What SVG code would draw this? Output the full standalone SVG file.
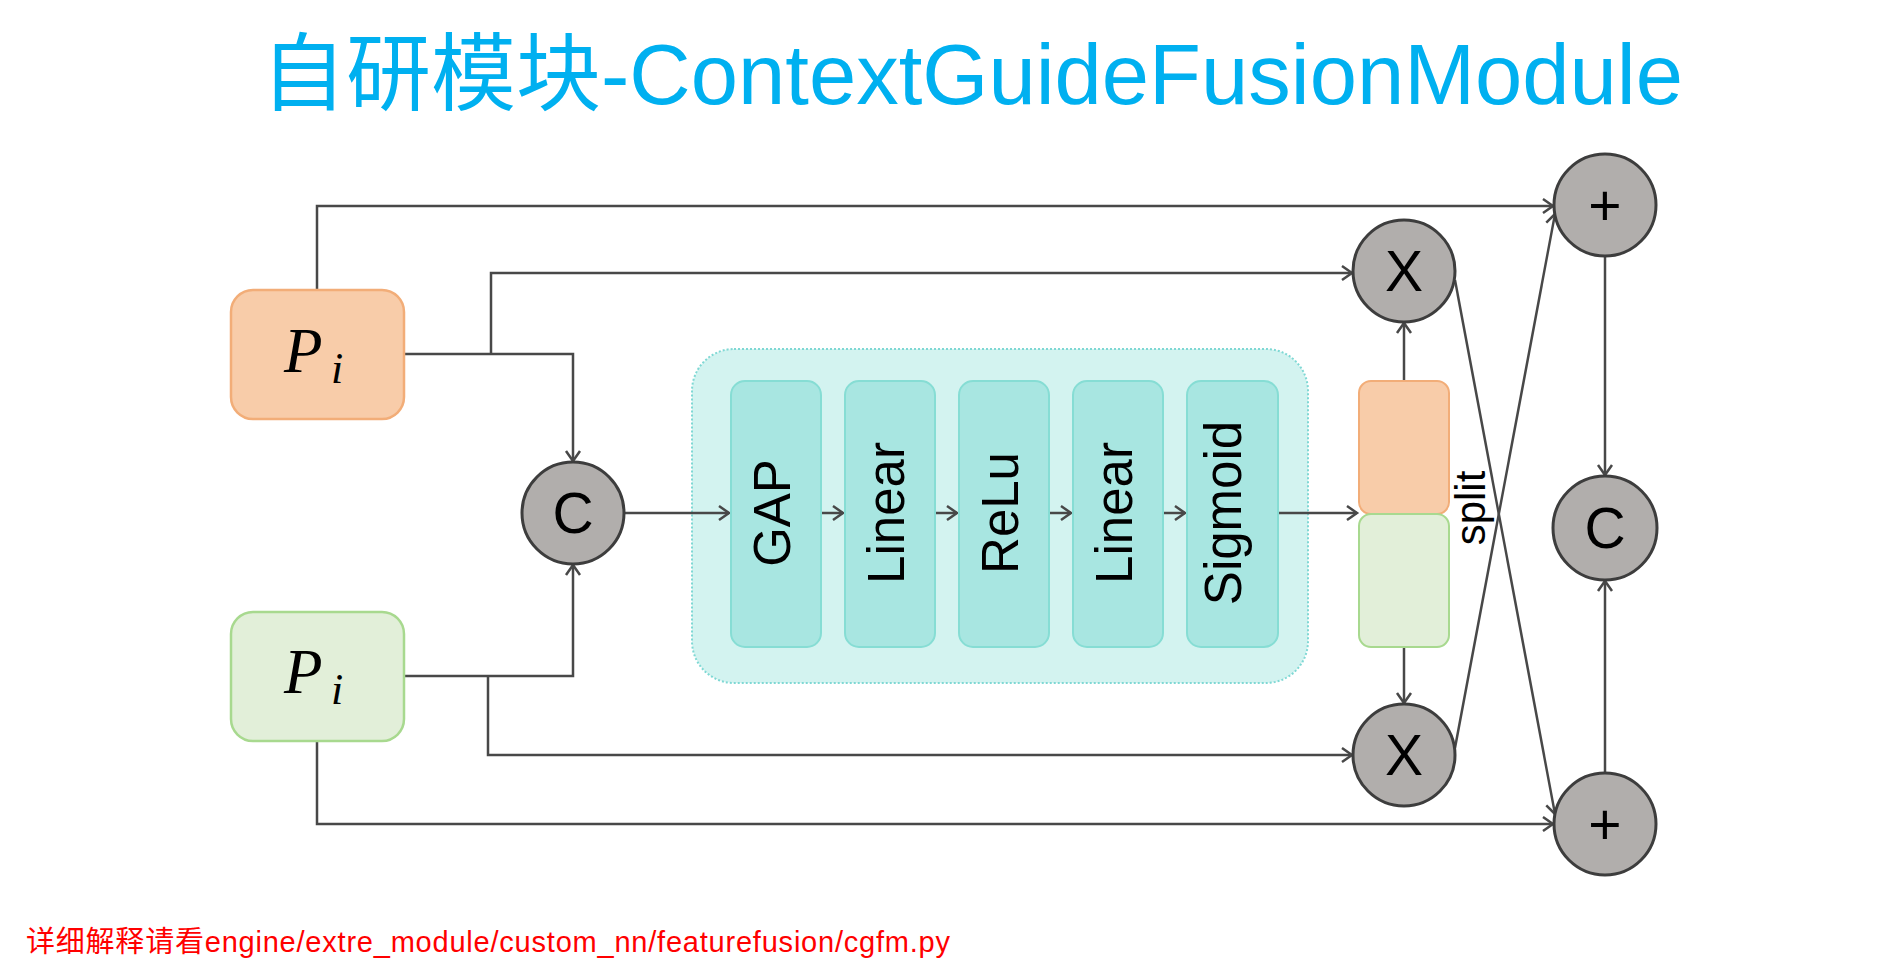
<svg xmlns="http://www.w3.org/2000/svg" width="1878" height="978" viewBox="0 0 1878 978">
<defs>
<style>
.title{font-family:"Liberation Sans","Noto Sans CJK SC",sans-serif;font-size:85px;fill:#00b0f0}
.foot{font-family:"Liberation Sans","Noto Sans CJK SC",sans-serif;font-size:29px;fill:#ff0000}
.conn{fill:none;stroke:#484848;stroke-width:2.5}
.circ{fill:#b1aeac;stroke:#3d3d3d;stroke-width:3}
.op{font-family:"Liberation Sans",Arial,sans-serif;font-size:57px;fill:#000;text-anchor:middle}
.lbl{font-family:"Liberation Sans",Arial,sans-serif;font-size:51px;fill:#000;text-anchor:middle}
.pi{font-family:"Liberation Serif","Times New Roman",serif;font-style:italic;font-size:63px;fill:#000}
.inner{fill:#a8e6e1;stroke:#86ddd4;stroke-width:2}
</style>
<marker id="arr" markerUnits="userSpaceOnUse" markerWidth="16" markerHeight="18" refX="12" refY="8" orient="auto" viewBox="0 0 16 16">
<path d="M2,1 L12,8 L2,15" fill="none" stroke="#484848" stroke-width="2.5"/>
</marker>
</defs>

<text class="title" x="261" y="104" textLength="1422">自研模块-ContextGuideFusionModule</text>

<g id="container">
<rect x="692" y="349" width="616" height="334" rx="42" fill="#d3f3f0" stroke="#7fd8d4" stroke-width="2" stroke-dasharray="2,2"/>
</g>

<g id="connectors">
<path class="conn" d="M317,290 V206 H1553" marker-end="url(#arr)"/>
<path class="conn" d="M404,354 H573 V461" marker-end="url(#arr)"/>
<path class="conn" d="M491,354 V273 H1352" marker-end="url(#arr)"/>
<path class="conn" d="M404,676 H573 V565" marker-end="url(#arr)"/>
<path class="conn" d="M488,676 V755 H1352" marker-end="url(#arr)"/>
<path class="conn" d="M317,741 V824 H1553" marker-end="url(#arr)"/>
<path class="conn" d="M624,513 H729" marker-end="url(#arr)"/>
<path class="conn" d="M821,513 H843" marker-end="url(#arr)"/>
<path class="conn" d="M935,513 H957" marker-end="url(#arr)"/>
<path class="conn" d="M1049,513 H1071" marker-end="url(#arr)"/>
<path class="conn" d="M1163,513 H1185" marker-end="url(#arr)"/>
<path class="conn" d="M1278,513 H1357" marker-end="url(#arr)"/>
<path class="conn" d="M1404,381 V323" marker-end="url(#arr)"/>
<path class="conn" d="M1404,647 V703" marker-end="url(#arr)"/>
<path class="conn" d="M1455,280 L1555,814" marker-end="url(#arr)"/>
<path class="conn" d="M1455,748 L1555,214" marker-end="url(#arr)"/>
<path class="conn" d="M1605,256 V475" marker-end="url(#arr)"/>
<path class="conn" d="M1605,773 V581" marker-end="url(#arr)"/>
</g>

<g id="pi-top">
<rect x="231" y="290" width="173" height="129" rx="22" fill="#f8cca9" stroke="#f2ad78" stroke-width="2.5"/>
<text class="pi" x="284" y="372">P<tspan x="331" y="383" font-size="44">i</tspan></text>
</g>
<g id="pi-bottom">
<rect x="231" y="612" width="173" height="129" rx="22" fill="#e2efd9" stroke="#a8d98f" stroke-width="2.5"/>
<text class="pi" x="284" y="693">P<tspan x="331" y="704" font-size="44">i</tspan></text>
</g>

<g id="concat-left">
<circle class="circ" cx="573" cy="513" r="51"/>
<text class="op" x="573" y="533">C</text>
</g>

<g id="gap">
<rect class="inner" x="731" y="381" width="90" height="266" rx="14"/>
<text class="lbl" transform="translate(790,513) rotate(-90)">GAP</text>
</g>
<g id="linear1">
<rect class="inner" x="845" y="381" width="90" height="266" rx="14"/>
<text class="lbl" transform="translate(904,513) rotate(-90)">Linear</text>
</g>
<g id="relu">
<rect class="inner" x="959" y="381" width="90" height="266" rx="14"/>
<text class="lbl" transform="translate(1018,513) rotate(-90)">ReLu</text>
</g>
<g id="linear2">
<rect class="inner" x="1073" y="381" width="90" height="266" rx="14"/>
<text class="lbl" transform="translate(1132,513) rotate(-90)">Linear</text>
</g>
<g id="sigmoid">
<rect class="inner" x="1187" y="381" width="91" height="266" rx="14"/>
<text class="lbl" transform="translate(1241,513) rotate(-90)">Sigmoid</text>
</g>

<g id="split">
<rect x="1359" y="381" width="90" height="133" rx="12" fill="#f8cca9" stroke="#f2ad78" stroke-width="2"/>
<rect x="1359" y="514" width="90" height="133" rx="12" fill="#e2efd9" stroke="#a8d98f" stroke-width="2"/>
<text transform="translate(1485,508) rotate(-90)" font-family="Liberation Sans, Arial, sans-serif" font-size="42" text-anchor="middle" fill="#000">split</text>
</g>

<g id="mul-top">
<circle class="circ" cx="1404" cy="271" r="51"/>
<text class="op" x="1404" y="291">X</text>
</g>
<g id="mul-bottom">
<circle class="circ" cx="1404" cy="755" r="51"/>
<text class="op" x="1404" y="775">X</text>
</g>
<g id="add-top">
<circle class="circ" cx="1605" cy="205" r="51"/>
<text class="op" x="1605" y="225">+</text>
</g>
<g id="add-bottom">
<circle class="circ" cx="1605" cy="824" r="51"/>
<text class="op" x="1605" y="844">+</text>
</g>
<g id="concat-right">
<circle class="circ" cx="1605" cy="528" r="52"/>
<text class="op" x="1605" y="548">C</text>
</g>

<text class="foot" x="26" y="952" textLength="924">详细解释请看engine/extre_module/custom_nn/featurefusion/cgfm.py</text>
</svg>
